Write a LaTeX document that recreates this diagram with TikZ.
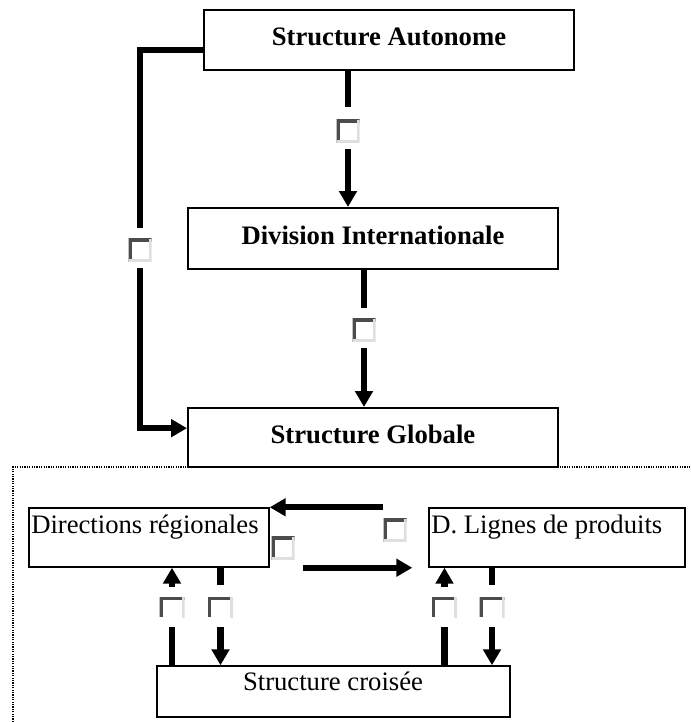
\documentclass[tikz,border=0pt]{standalone}
\usepackage{fontspec}
\setmainfont{Liberation Serif}
\usetikzlibrary{arrows.meta}

\tikzset{
  bigfont/.style={font=\fontsize{20}{24}\selectfont},
  topbox/.style={draw, line width=1.5pt, inner sep=0pt, bigfont,
    font=\bfseries\fontsize{20}{24}\selectfont,
    text height=13.5pt, text depth=5pt},
  lowbox/.style={draw, line width=1.1pt, inner sep=0pt},
  bar/.style={line width=4.8pt},
  flow/.style={line width=4.8pt, -{Triangle[length=12pt,width=13pt]}},
  frame/.style={line width=0.9pt, dash pattern=on 0.9pt off 0.9pt},
  % placeholder box glyph: dark top/left, light bottom/right
  glyph/.style={minimum size=17.25pt, inner sep=0pt,
    path picture={
      \draw[line width=5pt, gray!60!black]
        (path picture bounding box.south west) -- (path picture bounding box.north west)
        -- (path picture bounding box.north east);
      \draw[line width=4.5pt, gray!25]
        (path picture bounding box.north east) -- (path picture bounding box.south east)
        -- (path picture bounding box.south west);
    }},
  % same glyph with its lower part cut off
  cutglyph/.style={minimum width=18.75pt, minimum height=15pt, inner sep=0pt,
    path picture={
      \draw[line width=5pt, gray!60!black]
        (path picture bounding box.south west) -- (path picture bounding box.north west)
        -- (path picture bounding box.north east);
      \draw[line width=4.5pt, gray!25]
        (path picture bounding box.north east) -- ([yshift=-2pt]path picture bounding box.south east);
    }},
}

\begin{document}
\begin{tikzpicture}[x=0.75pt, y=-0.75pt]
\useasboundingbox (0,0) rectangle (690,722);

% dotted frame around the cross structure
\draw[frame] (13,722) -- (13,467) -- (690,467);

% upper chain
\node[topbox, minimum width=277.5pt, minimum height=45pt]    (sa) at (389,40)    {Structure Autonome};
\node[topbox, minimum width=277.5pt, minimum height=45.75pt] (di) at (373,238.5) {Division Internationale};
\node[topbox, minimum width=277.5pt, minimum height=44.25pt, fill=white] (sg) at (373,437.5) {Structure Globale};

% lower boxes
\node[lowbox, minimum width=180pt, minimum height=44.25pt]   (dr)  at (149,537.5) {};
\node[lowbox, minimum width=192pt, minimum height=44.25pt]   (dlp) at (557,537.5) {};
\node[lowbox, minimum width=264.75pt, minimum height=38.25pt] (sc) at (333.5,691.5) {};
\node[bigfont, anchor=base west, inner sep=0pt] (drt)  at (31,533)  {Directions régionales};
\node[bigfont, anchor=base west, inner sep=0pt] (dlpt) at (431,533) {D. Lignes de produits};
\node[bigfont, anchor=base, inner sep=0pt]      (sct)  at (333,690) {Structure croisée};

% glyphs on the connectors
\node[glyph] (g1) at (348,131) {};
\node[glyph] (g2) at (140,250) {};
\node[glyph] (g3) at (364,330) {};
\node[glyph] (g4) at (283,548) {};
\node[glyph] (g5) at (395,530) {};
\node[cutglyph] (c1) at (172,607) {};
\node[cutglyph] (c2) at (220.5,607) {};
\node[cutglyph] (c3) at (444.5,607) {};
\node[cutglyph] (c4) at (492,607) {};

% Structure Autonome -> Division Internationale
\draw[bar]  (sa.south -| g1) -- ([yshift=9pt]g1.north);
\draw[flow] ([yshift=-4.5pt]g1.south) -- (g1 |- di.north);

% Structure Autonome -> Structure Globale (left route)
\draw[bar]  ([yshift=-7.5pt]sa.west) -| ([yshift=7.5pt]g2.north);
\draw[flow] ([yshift=-4.5pt]g2.south) |- ([yshift=7pt]sg.west);

% Division Internationale -> Structure Globale
\draw[bar]  (di.south -| g3) -- ([yshift=7.5pt]g3.north);
\draw[flow] ([yshift=-5pt]g3.south) -- (g3 |- sg.north);

% between the two directions
\draw[flow] (g5.west |- dr.north) -- (dr.north east);
\draw[flow] ([xshift=24.75pt]dr.south east) -- ([xshift=-12pt]dlp.south west);

% Structure croisée <-> Directions régionales
\draw[bar]  (sc.north -| c1) -- ([yshift=-7.5pt]c1.south);
\draw[flow] ([yshift=7.5pt]c1.north) -- (c1 |- dr.south);
\draw[bar]  (dr.south -| c2) -- ([yshift=9pt]c2.north);
\draw[flow] ([yshift=-7.5pt]c2.south) -- (c2 |- sc.north);

% Structure croisée <-> D. Lignes de produits
\draw[bar]  (sc.north -| c3) -- ([yshift=-7.5pt]c3.south);
\draw[flow] ([yshift=7.5pt]c3.north) -- (c3 |- dlp.south);
\draw[bar]  (dlp.south -| c4) -- ([yshift=9pt]c4.north);
\draw[flow] ([yshift=-7.5pt]c4.south) -- (c4 |- sc.north);
\end{tikzpicture}
\end{document}
